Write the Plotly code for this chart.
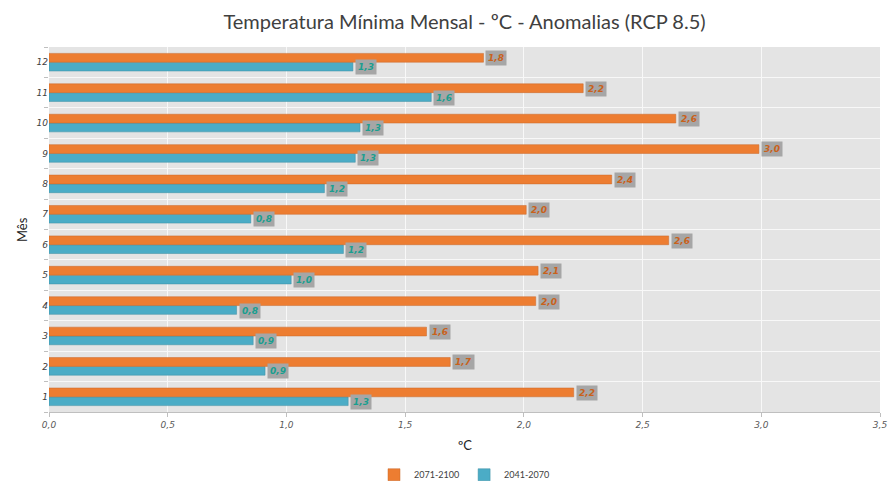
import plotly.graph_objects as go

meses = ["1", "2", "3", "4", "5", "6", "7", "8", "9", "10", "11", "12"]
p2071_2100 = [2.21, 1.69, 1.59, 2.05, 2.06, 2.61, 2.01, 2.37, 2.99, 2.64, 2.25, 1.83]
p2041_2070 = [1.26, 0.91, 0.86, 0.79, 1.02, 1.24, 0.85, 1.16, 1.29, 1.31, 1.61, 1.28]

serie_a = "2041-2070"
serie_b = "2071-2100"
cor_a = "#4bacc6"
cor_b = "#ed7d31"
txt_a = "#1a9e8f"
txt_b = "#c9611b"

fig = go.Figure()
fig.add_trace(go.Bar(y=meses, x=p2041_2070, name=serie_a, orientation="h",
                     marker=dict(color=cor_a, line=dict(color="#3d8ea3", width=0.5))))
fig.add_trace(go.Bar(y=meses, x=p2071_2100, name=serie_b, orientation="h",
                     marker=dict(color=cor_b, line=dict(color="#c8692a", width=0.5))))

def fmt(v):
    return f"{v:.1f}".replace(".", ",")

ann = []
for i, (va, vb) in enumerate(zip(p2041_2070, p2071_2100)):
    for v, shift, col in ((va, -5, txt_a), (vb, 4, txt_b)):
        ann.append(dict(x=v, y=i, xref="x", yref="y", text=fmt(v), showarrow=False,
                        xanchor="left", yanchor="middle", xshift=2, yshift=shift,
                        bgcolor="#a6a6a6", borderpad=2,
                        font=dict(family="DejaVu Sans", size=9, color=col,
                                  style="italic", weight="bold")))
ann.append(dict(x=-0.045, y=0.5, xref="paper", yref="paper", text="Mês", showarrow=False,
                textangle=-90, font=dict(family="Lato", size=13, color="#222222")))
ann.append(dict(x=0.5, y=-0.09, xref="paper", yref="paper", text="ºC", showarrow=False,
                yanchor="middle", font=dict(family="Lato", size=13, color="#222222")))
fig.update_layout(
    annotations=ann,
    width=890, height=481,
    margin=dict(l=49, r=10, t=47, b=69, autoexpand=False),
    paper_bgcolor="white", plot_bgcolor="#e4e4e4",
    separators=",.",
    barmode="group", bargap=0.42, bargroupgap=0.0,
    title=dict(text="Temperatura Mínima Mensal - ºC - Anomalias (RCP 8.5)",
               x=0.5, xref="paper", xanchor="center", y=0.955, yanchor="middle",
               font=dict(family="Lato", size=20, color="#404040")),
    xaxis=dict(range=[0, 3.5], dtick=0.5, tickformat=".1f", showgrid=True, gridcolor="#f8f8f8",
               gridwidth=1, zeroline=False, showline=True, linecolor="#bfbfbf",
               ticks="outside", ticklen=4, tickcolor="#bfbfbf",
               tickfont=dict(family="DejaVu Sans", size=9, color="#595959", style="italic")),
    yaxis=dict(tickson="boundaries", showgrid=True, gridcolor="#f8f8f8", gridwidth=1,
               ticks="outside", ticklen=4, tickcolor="#bfbfbf", showline=False,
               tickfont=dict(family="DejaVu Sans", size=9, color="#404040", style="italic")),
    legend=dict(orientation="h", x=0.5, xanchor="center", yref="container", y=0.013,
                yanchor="middle", traceorder="reversed",
                font=dict(family="Lato", size=9, color="#404040"), itemwidth=30),
    showlegend=True,
)
fig.write_html("out.html")
